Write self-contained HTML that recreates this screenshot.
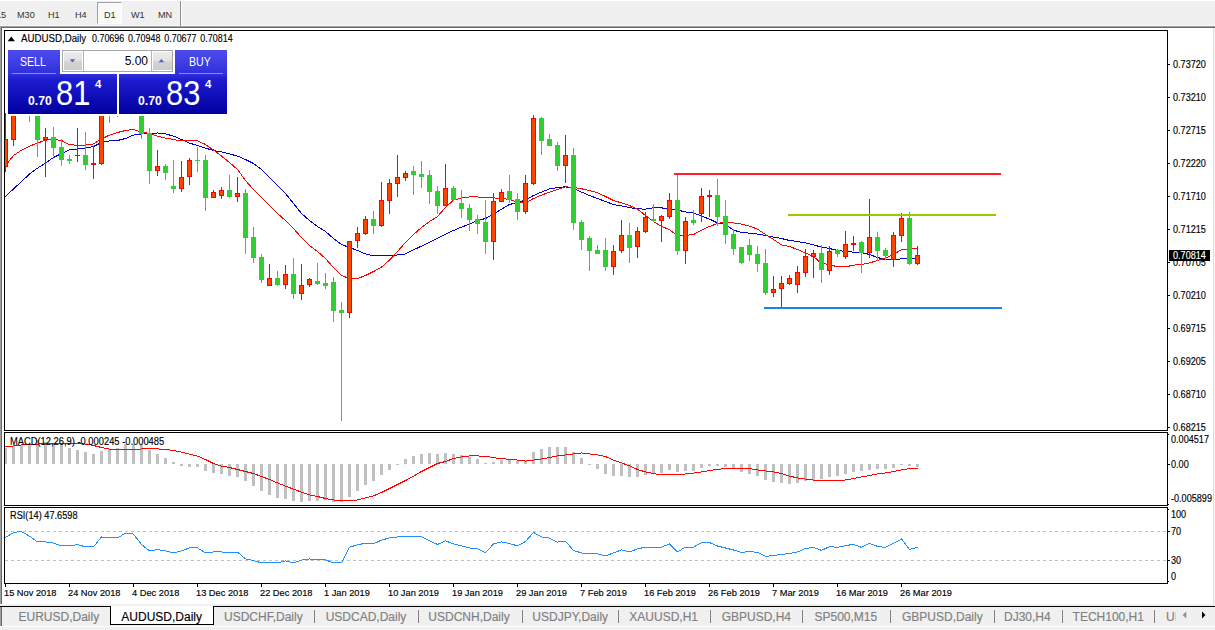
<!DOCTYPE html><html><head><meta charset="utf-8"><title>AUDUSD,Daily</title><style>
html,body{margin:0;padding:0;}
body{width:1215px;height:630px;position:relative;overflow:hidden;background:#fff;font-family:"Liberation Sans", sans-serif;}
.a{position:absolute;}
.t{position:absolute;white-space:nowrap;line-height:1;}
.ax{font-size:10px;color:#000;left:1173px;transform-origin:0 0;transform:scaleX(.91);-webkit-text-stroke:0.15px #000;}
.dt{font-size:9.8px;color:#000;top:588.2px;margin-left:-0.7px;transform-origin:0 0;transform:scaleX(.945);-webkit-text-stroke:0.15px #000;}
.ct{font-size:10.3px;color:#000;transform-origin:0 0;-webkit-text-stroke:0.15px #000;}
.tb{font-size:9.6px;color:#303030;top:9.8px;transform-origin:0 0;transform:scaleX(.95);}
.tab{font-size:12px;color:#808080;top:611px;-webkit-text-stroke:0.15px currentColor;}
.sep{position:absolute;top:610px;width:1px;height:13px;background:#808080;}
</style></head><body>
<div class="a" style="left:0;top:1px;width:1215px;height:24px;background:#f0f0f0"></div>
<div class="a" style="left:0;top:25px;width:1215px;height:1px;background:#f7f7f7"></div>
<div class="a" style="left:0;top:26px;width:1215px;height:1px;background:#a0a0a0"></div>
<div class="a" style="left:0;top:27px;width:1215px;height:1px;background:#696969"></div>
<div class="a" style="left:97px;top:2px;width:25px;height:22px;background:#f9f9f9;border-left:1px solid #a0a0a0;border-top:1px solid #a0a0a0;box-sizing:border-box;border-right:1px solid #fff;border-bottom:1px solid #fff"></div>
<div class="a" style="left:180px;top:1px;width:1px;height:25px;background:#909090"></div>
<div class="a" style="left:181px;top:1px;width:1px;height:25px;background:#fafafa"></div>
<div class="t tb" style="left:-4px">15</div>
<div class="t tb" style="left:16.5px">M30</div>
<div class="t tb" style="left:47.7px">H1</div>
<div class="t tb" style="left:74.7px">H4</div>
<div class="t tb" style="left:103.6px">D1</div>
<div class="t tb" style="left:131.3px">W1</div>
<div class="t tb" style="left:157.7px">MN</div>
<div class="a" style="left:0;top:27px;width:1px;height:577px;background:#a0a0a0"></div>
<div class="a" style="left:1px;top:28px;width:1px;height:576px;background:#696969"></div>
<div class="a" style="left:1213px;top:28px;width:1px;height:576px;background:#dedede"></div>
<div class="a" style="left:1214px;top:28px;width:1px;height:576px;background:#f6f6f6"></div>
<svg class="a" style="left:0;top:0" width="1215" height="630" viewBox="0 0 1215 630"><polyline points="5.5,196.5 13.5,188.9 21.5,181.5 29.5,174.1 37.5,168.1 45.5,163.1 53.5,157.5 61.5,153.5 69.5,149.9 77.5,148.9 85.5,147.9 93.5,146.5 101.5,142.5 109.5,140.9 117.5,140.5 125.5,138.5 133.5,135.1 141.5,133.9 149.5,133.9 157.5,132.9 165.5,133.9 173.5,136.1 181.5,139.5 189.5,143.1 197.5,145.5 205.5,148.1 213.5,150.5 221.5,151.9 229.5,153.9 237.5,156.1 245.5,159.5 253.5,163.5 261.5,169.5 269.5,177.5 277.5,185.5 285.5,193.5 293.5,203.5 301.5,213.5 309.5,220.5 317.5,226.5 325.5,231.5 333.5,238.5 341.5,244.5 349.5,247.5 357.5,250.5 365.5,253.9 373.5,255.9 381.5,255.9 389.5,255.9 397.5,254.9 405.5,253.9 413.5,249.9 421.5,246.1 429.5,242.1 437.5,238.1 445.5,234.1 453.5,230.5 461.5,227.1 469.5,224.1 477.5,220.5 485.5,218.5 493.5,214.1 501.5,209.1 509.5,204.5 517.5,202.5 525.5,200.1 533.5,195.5 541.5,192.1 549.5,188.9 557.5,187.5 565.5,186.8 573.5,188.5 581.5,192.1 589.5,195.5 597.5,198.5 605.5,201.5 613.5,204.5 621.5,205.9 629.5,207.5 637.5,208.9 645.5,209.1 653.5,207.8 661.5,207.8 669.5,209.5 677.5,210.1 685.5,211.9 693.5,212.9 701.5,216.1 709.5,219.1 717.5,222.9 725.5,224.5 733.5,230.1 741.5,232.5 749.5,233.1 757.5,234.1 765.5,235.5 773.5,237.1 781.5,238.5 789.5,240.5 797.5,241.5 805.5,242.9 813.5,244.9 821.5,247.1 829.5,248.5 837.5,250.5 845.5,251.5 853.5,252.1 861.5,252.5 869.5,254.5 877.5,257.5 885.5,259.5 893.5,259.5 901.5,258.9 909.5,258.9 917.5,258.9" fill="none" stroke="#0000d0" stroke-width="1" stroke-linejoin="round" shape-rendering="crispEdges" />
<polyline points="5.5,165.5 13.5,155.5 21.5,150.1 29.5,146.1 37.5,143.1 45.5,140.1 53.5,139.5 61.5,140.5 69.5,144.9 77.5,145.1 85.5,145.1 93.5,143.9 101.5,138.9 109.5,135.1 117.5,132.5 125.5,130.5 133.5,129.5 141.5,132.1 149.5,133.5 157.5,136.1 165.5,138.1 173.5,139.5 181.5,140.9 189.5,140.5 197.5,140.9 205.5,144.5 213.5,150.1 221.5,156.1 229.5,162.5 237.5,169.5 245.5,180.5 253.5,189.5 261.5,197.5 269.5,205.5 277.5,213.5 285.5,220.5 293.5,228.5 301.5,237.5 309.5,245.5 317.5,251.5 325.5,258.5 333.5,267.5 341.5,275.5 349.5,278.5 357.5,278.5 365.5,275.5 373.5,271.5 381.5,267.1 389.5,260.1 397.5,251.5 405.5,242.5 413.5,234.5 421.5,227.5 429.5,221.5 437.5,216.5 445.5,207.5 453.5,200.1 461.5,198.1 469.5,196.9 477.5,196.9 485.5,197.9 493.5,197.9 501.5,198.5 509.5,199.5 517.5,202.1 525.5,202.9 533.5,198.5 541.5,195.1 549.5,192.1 557.5,189.5 565.5,186.8 573.5,187.5 581.5,188.8 589.5,190.5 597.5,192.8 605.5,196.5 613.5,200.5 621.5,202.9 629.5,205.5 637.5,209.1 645.5,215.5 653.5,221.5 661.5,226.5 669.5,229.5 677.5,236.1 685.5,235.5 693.5,234.5 701.5,230.1 709.5,226.5 717.5,223.5 725.5,222.1 733.5,222.9 741.5,224.1 749.5,226.1 757.5,229.1 765.5,234.5 773.5,239.5 781.5,244.9 789.5,246.5 797.5,249.5 805.5,252.9 813.5,256.5 821.5,263.5 829.5,264.5 837.5,266.9 845.5,266.9 853.5,265.1 861.5,264.5 869.5,262.9 877.5,260.5 885.5,258.1 893.5,254.1 901.5,249.9 909.5,248.9 917.5,248.9" fill="none" stroke="#ff0000" stroke-width="1" stroke-linejoin="round" shape-rendering="crispEdges" />
<g shape-rendering="crispEdges">
<rect x="5" y="113" width="1" height="59" fill="#ff0000"/>
<rect x="5" y="139" width="3" height="28" fill="#ff0000"/>
<rect x="4" y="140" width="3" height="26" fill="#ff4500"/>
<rect x="13" y="100" width="1" height="46" fill="#ff0000"/>
<rect x="11" y="100" width="5" height="40" fill="#ff0000"/>
<rect x="12" y="101" width="3" height="38" fill="#ff4500"/>
<rect x="29" y="100" width="1" height="22" fill="#32cd32"/>
<rect x="37" y="100" width="1" height="57" fill="#32cd32"/>
<rect x="35" y="100" width="5" height="40" fill="#32cd32"/>
<rect x="45" y="128" width="1" height="49" fill="#ff0000"/>
<rect x="43" y="137" width="5" height="3" fill="#ff0000"/>
<rect x="44" y="138" width="3" height="1" fill="#ff4500"/>
<rect x="53" y="127" width="1" height="29" fill="#32cd32"/>
<rect x="51" y="137" width="5" height="11" fill="#32cd32"/>
<rect x="61" y="139" width="1" height="27" fill="#32cd32"/>
<rect x="59" y="147" width="5" height="13" fill="#32cd32"/>
<rect x="69" y="155" width="1" height="9" fill="#32cd32"/>
<rect x="67" y="159" width="5" height="2" fill="#32cd32"/>
<rect x="77" y="128" width="1" height="34" fill="#ff0000"/>
<rect x="75" y="155" width="5" height="1" fill="#ff0000"/>
<rect x="85" y="132" width="1" height="38" fill="#32cd32"/>
<rect x="83" y="155" width="5" height="10" fill="#32cd32"/>
<rect x="93" y="146" width="1" height="33" fill="#ff0000"/>
<rect x="91" y="163" width="5" height="2" fill="#ff0000"/>
<rect x="101" y="100" width="1" height="65" fill="#ff0000"/>
<rect x="99" y="100" width="5" height="64" fill="#ff0000"/>
<rect x="100" y="101" width="3" height="62" fill="#ff4500"/>
<rect x="109" y="100" width="1" height="23" fill="#32cd32"/>
<rect x="117" y="100" width="1" height="17" fill="#32cd32"/>
<rect x="141" y="100" width="1" height="39" fill="#32cd32"/>
<rect x="139" y="100" width="5" height="34" fill="#32cd32"/>
<rect x="149" y="128" width="1" height="56" fill="#32cd32"/>
<rect x="147" y="133" width="5" height="38" fill="#32cd32"/>
<rect x="157" y="150" width="1" height="26" fill="#ff0000"/>
<rect x="155" y="166" width="5" height="5" fill="#ff0000"/>
<rect x="156" y="167" width="3" height="3" fill="#ff4500"/>
<rect x="165" y="164" width="1" height="16" fill="#32cd32"/>
<rect x="163" y="166" width="5" height="7" fill="#32cd32"/>
<rect x="173" y="160" width="1" height="33" fill="#32cd32"/>
<rect x="171" y="186" width="5" height="3" fill="#32cd32"/>
<rect x="181" y="161" width="1" height="31" fill="#ff0000"/>
<rect x="179" y="177" width="5" height="12" fill="#ff0000"/>
<rect x="180" y="178" width="3" height="10" fill="#ff4500"/>
<rect x="189" y="158" width="1" height="27" fill="#ff0000"/>
<rect x="187" y="160" width="5" height="17" fill="#ff0000"/>
<rect x="188" y="161" width="3" height="15" fill="#ff4500"/>
<rect x="197" y="147" width="1" height="25" fill="#32cd32"/>
<rect x="195" y="160" width="5" height="1" fill="#32cd32"/>
<rect x="205" y="155" width="1" height="56" fill="#32cd32"/>
<rect x="203" y="160" width="5" height="38" fill="#32cd32"/>
<rect x="213" y="190" width="1" height="8" fill="#ff0000"/>
<rect x="211" y="192" width="5" height="6" fill="#ff0000"/>
<rect x="212" y="193" width="3" height="4" fill="#ff4500"/>
<rect x="221" y="187" width="1" height="12" fill="#ff0000"/>
<rect x="219" y="190" width="5" height="6" fill="#ff0000"/>
<rect x="220" y="191" width="3" height="4" fill="#ff4500"/>
<rect x="229" y="175" width="1" height="23" fill="#32cd32"/>
<rect x="227" y="190" width="5" height="7" fill="#32cd32"/>
<rect x="237" y="177" width="1" height="25" fill="#ff0000"/>
<rect x="235" y="193" width="5" height="4" fill="#ff0000"/>
<rect x="236" y="194" width="3" height="2" fill="#ff4500"/>
<rect x="245" y="189" width="1" height="65" fill="#32cd32"/>
<rect x="243" y="193" width="5" height="45" fill="#32cd32"/>
<rect x="253" y="227" width="1" height="36" fill="#32cd32"/>
<rect x="251" y="237" width="5" height="21" fill="#32cd32"/>
<rect x="261" y="254" width="1" height="29" fill="#32cd32"/>
<rect x="259" y="257" width="5" height="23" fill="#32cd32"/>
<rect x="269" y="264" width="1" height="22" fill="#ff0000"/>
<rect x="267" y="278" width="5" height="8" fill="#ff0000"/>
<rect x="268" y="279" width="3" height="6" fill="#ff4500"/>
<rect x="277" y="271" width="1" height="15" fill="#32cd32"/>
<rect x="275" y="278" width="5" height="7" fill="#32cd32"/>
<rect x="285" y="265" width="1" height="24" fill="#ff0000"/>
<rect x="283" y="274" width="5" height="11" fill="#ff0000"/>
<rect x="284" y="275" width="3" height="9" fill="#ff4500"/>
<rect x="293" y="258" width="1" height="41" fill="#32cd32"/>
<rect x="291" y="274" width="5" height="20" fill="#32cd32"/>
<rect x="301" y="264" width="1" height="36" fill="#ff0000"/>
<rect x="299" y="285" width="5" height="9" fill="#ff0000"/>
<rect x="300" y="286" width="3" height="7" fill="#ff4500"/>
<rect x="309" y="278" width="1" height="9" fill="#ff0000"/>
<rect x="307" y="279" width="5" height="6" fill="#ff0000"/>
<rect x="308" y="280" width="3" height="4" fill="#ff4500"/>
<rect x="317" y="263" width="1" height="22" fill="#32cd32"/>
<rect x="315" y="281" width="5" height="3" fill="#32cd32"/>
<rect x="325" y="273" width="1" height="16" fill="#32cd32"/>
<rect x="323" y="283" width="5" height="3" fill="#32cd32"/>
<rect x="333" y="277" width="1" height="45" fill="#32cd32"/>
<rect x="331" y="282" width="5" height="29" fill="#32cd32"/>
<rect x="341" y="302" width="1" height="119" fill="#32cd32"/>
<rect x="339" y="310" width="5" height="3" fill="#32cd32"/>
<rect x="349" y="241" width="1" height="77" fill="#ff0000"/>
<rect x="347" y="241" width="5" height="72" fill="#ff0000"/>
<rect x="348" y="242" width="3" height="70" fill="#ff4500"/>
<rect x="357" y="227" width="1" height="21" fill="#ff0000"/>
<rect x="355" y="233" width="5" height="8" fill="#ff0000"/>
<rect x="356" y="234" width="3" height="6" fill="#ff4500"/>
<rect x="365" y="216" width="1" height="19" fill="#ff0000"/>
<rect x="363" y="219" width="5" height="15" fill="#ff0000"/>
<rect x="364" y="220" width="3" height="13" fill="#ff4500"/>
<rect x="373" y="211" width="1" height="23" fill="#32cd32"/>
<rect x="371" y="219" width="5" height="7" fill="#32cd32"/>
<rect x="381" y="182" width="1" height="45" fill="#ff0000"/>
<rect x="379" y="200" width="5" height="26" fill="#ff0000"/>
<rect x="380" y="201" width="3" height="24" fill="#ff4500"/>
<rect x="389" y="179" width="1" height="35" fill="#ff0000"/>
<rect x="387" y="183" width="5" height="18" fill="#ff0000"/>
<rect x="388" y="184" width="3" height="16" fill="#ff4500"/>
<rect x="397" y="155" width="1" height="42" fill="#ff0000"/>
<rect x="395" y="177" width="5" height="7" fill="#ff0000"/>
<rect x="396" y="178" width="3" height="5" fill="#ff4500"/>
<rect x="405" y="171" width="1" height="10" fill="#ff0000"/>
<rect x="403" y="173" width="5" height="5" fill="#ff0000"/>
<rect x="404" y="174" width="3" height="3" fill="#ff4500"/>
<rect x="413" y="166" width="1" height="29" fill="#32cd32"/>
<rect x="411" y="171" width="5" height="4" fill="#32cd32"/>
<rect x="421" y="161" width="1" height="27" fill="#32cd32"/>
<rect x="419" y="174" width="5" height="3" fill="#32cd32"/>
<rect x="429" y="170" width="1" height="34" fill="#32cd32"/>
<rect x="427" y="175" width="5" height="17" fill="#32cd32"/>
<rect x="437" y="186" width="1" height="28" fill="#32cd32"/>
<rect x="435" y="191" width="5" height="15" fill="#32cd32"/>
<rect x="445" y="164" width="1" height="42" fill="#ff0000"/>
<rect x="443" y="188" width="5" height="18" fill="#ff0000"/>
<rect x="444" y="189" width="3" height="16" fill="#ff4500"/>
<rect x="453" y="186" width="1" height="15" fill="#32cd32"/>
<rect x="451" y="188" width="5" height="12" fill="#32cd32"/>
<rect x="461" y="190" width="1" height="28" fill="#32cd32"/>
<rect x="459" y="203" width="5" height="6" fill="#32cd32"/>
<rect x="469" y="204" width="1" height="27" fill="#32cd32"/>
<rect x="467" y="208" width="5" height="12" fill="#32cd32"/>
<rect x="477" y="215" width="1" height="19" fill="#32cd32"/>
<rect x="475" y="219" width="5" height="5" fill="#32cd32"/>
<rect x="485" y="200" width="1" height="54" fill="#32cd32"/>
<rect x="483" y="222" width="5" height="20" fill="#32cd32"/>
<rect x="493" y="193" width="1" height="67" fill="#ff0000"/>
<rect x="491" y="201" width="5" height="41" fill="#ff0000"/>
<rect x="492" y="202" width="3" height="39" fill="#ff4500"/>
<rect x="501" y="189" width="1" height="13" fill="#ff0000"/>
<rect x="499" y="192" width="5" height="10" fill="#ff0000"/>
<rect x="500" y="193" width="3" height="8" fill="#ff4500"/>
<rect x="509" y="175" width="1" height="28" fill="#32cd32"/>
<rect x="507" y="191" width="5" height="9" fill="#32cd32"/>
<rect x="517" y="193" width="1" height="27" fill="#32cd32"/>
<rect x="515" y="199" width="5" height="13" fill="#32cd32"/>
<rect x="525" y="175" width="1" height="39" fill="#ff0000"/>
<rect x="523" y="183" width="5" height="29" fill="#ff0000"/>
<rect x="524" y="184" width="3" height="27" fill="#ff4500"/>
<rect x="533" y="115" width="1" height="70" fill="#ff0000"/>
<rect x="531" y="118" width="5" height="66" fill="#ff0000"/>
<rect x="532" y="119" width="3" height="64" fill="#ff4500"/>
<rect x="541" y="117" width="1" height="38" fill="#32cd32"/>
<rect x="539" y="118" width="5" height="23" fill="#32cd32"/>
<rect x="549" y="134" width="1" height="12" fill="#32cd32"/>
<rect x="547" y="139" width="5" height="7" fill="#32cd32"/>
<rect x="557" y="142" width="1" height="29" fill="#32cd32"/>
<rect x="555" y="145" width="5" height="21" fill="#32cd32"/>
<rect x="565" y="135" width="1" height="48" fill="#ff0000"/>
<rect x="563" y="155" width="5" height="11" fill="#ff0000"/>
<rect x="564" y="156" width="3" height="9" fill="#ff4500"/>
<rect x="573" y="148" width="1" height="82" fill="#32cd32"/>
<rect x="571" y="155" width="5" height="68" fill="#32cd32"/>
<rect x="581" y="220" width="1" height="30" fill="#32cd32"/>
<rect x="579" y="222" width="5" height="18" fill="#32cd32"/>
<rect x="589" y="236" width="1" height="35" fill="#32cd32"/>
<rect x="587" y="238" width="5" height="13" fill="#32cd32"/>
<rect x="597" y="245" width="1" height="9" fill="#32cd32"/>
<rect x="595" y="250" width="5" height="4" fill="#32cd32"/>
<rect x="605" y="238" width="1" height="33" fill="#32cd32"/>
<rect x="603" y="250" width="5" height="17" fill="#32cd32"/>
<rect x="613" y="245" width="1" height="30" fill="#ff0000"/>
<rect x="611" y="251" width="5" height="16" fill="#ff0000"/>
<rect x="612" y="252" width="3" height="14" fill="#ff4500"/>
<rect x="621" y="220" width="1" height="33" fill="#ff0000"/>
<rect x="619" y="235" width="5" height="16" fill="#ff0000"/>
<rect x="620" y="236" width="3" height="14" fill="#ff4500"/>
<rect x="629" y="223" width="1" height="40" fill="#32cd32"/>
<rect x="627" y="235" width="5" height="13" fill="#32cd32"/>
<rect x="637" y="227" width="1" height="31" fill="#ff0000"/>
<rect x="635" y="231" width="5" height="16" fill="#ff0000"/>
<rect x="636" y="232" width="3" height="14" fill="#ff4500"/>
<rect x="645" y="212" width="1" height="21" fill="#ff0000"/>
<rect x="643" y="217" width="5" height="15" fill="#ff0000"/>
<rect x="644" y="218" width="3" height="13" fill="#ff4500"/>
<rect x="653" y="204" width="1" height="18" fill="#32cd32"/>
<rect x="651" y="219" width="5" height="2" fill="#32cd32"/>
<rect x="661" y="215" width="1" height="27" fill="#ff0000"/>
<rect x="659" y="216" width="5" height="5" fill="#ff0000"/>
<rect x="660" y="217" width="3" height="3" fill="#ff4500"/>
<rect x="669" y="193" width="1" height="26" fill="#ff0000"/>
<rect x="667" y="200" width="5" height="17" fill="#ff0000"/>
<rect x="668" y="201" width="3" height="15" fill="#ff4500"/>
<rect x="677" y="175" width="1" height="80" fill="#32cd32"/>
<rect x="675" y="200" width="5" height="51" fill="#32cd32"/>
<rect x="685" y="217" width="1" height="47" fill="#ff0000"/>
<rect x="683" y="221" width="5" height="30" fill="#ff0000"/>
<rect x="684" y="222" width="3" height="28" fill="#ff4500"/>
<rect x="693" y="210" width="1" height="15" fill="#32cd32"/>
<rect x="691" y="220" width="5" height="3" fill="#32cd32"/>
<rect x="701" y="188" width="1" height="34" fill="#ff0000"/>
<rect x="699" y="196" width="5" height="18" fill="#ff0000"/>
<rect x="700" y="197" width="3" height="16" fill="#ff4500"/>
<rect x="709" y="190" width="1" height="27" fill="#ff0000"/>
<rect x="707" y="195" width="5" height="2" fill="#ff0000"/>
<rect x="717" y="179" width="1" height="47" fill="#32cd32"/>
<rect x="715" y="195" width="5" height="22" fill="#32cd32"/>
<rect x="725" y="200" width="1" height="44" fill="#32cd32"/>
<rect x="723" y="216" width="5" height="19" fill="#32cd32"/>
<rect x="733" y="229" width="1" height="26" fill="#32cd32"/>
<rect x="731" y="234" width="5" height="15" fill="#32cd32"/>
<rect x="741" y="247" width="1" height="17" fill="#32cd32"/>
<rect x="739" y="247" width="5" height="16" fill="#32cd32"/>
<rect x="749" y="239" width="1" height="22" fill="#32cd32"/>
<rect x="747" y="245" width="5" height="10" fill="#32cd32"/>
<rect x="757" y="246" width="1" height="26" fill="#32cd32"/>
<rect x="755" y="254" width="5" height="10" fill="#32cd32"/>
<rect x="765" y="249" width="1" height="46" fill="#32cd32"/>
<rect x="763" y="263" width="5" height="30" fill="#32cd32"/>
<rect x="773" y="276" width="1" height="21" fill="#ff0000"/>
<rect x="771" y="289" width="5" height="4" fill="#ff0000"/>
<rect x="772" y="290" width="3" height="2" fill="#ff4500"/>
<rect x="781" y="276" width="1" height="31" fill="#ff0000"/>
<rect x="779" y="283" width="5" height="6" fill="#ff0000"/>
<rect x="780" y="284" width="3" height="4" fill="#ff4500"/>
<rect x="789" y="275" width="1" height="10" fill="#ff0000"/>
<rect x="787" y="278" width="5" height="6" fill="#ff0000"/>
<rect x="788" y="279" width="3" height="4" fill="#ff4500"/>
<rect x="797" y="266" width="1" height="27" fill="#ff0000"/>
<rect x="795" y="272" width="5" height="13" fill="#ff0000"/>
<rect x="796" y="273" width="3" height="11" fill="#ff4500"/>
<rect x="805" y="249" width="1" height="28" fill="#ff0000"/>
<rect x="803" y="256" width="5" height="17" fill="#ff0000"/>
<rect x="804" y="257" width="3" height="15" fill="#ff4500"/>
<rect x="813" y="250" width="1" height="28" fill="#ff0000"/>
<rect x="811" y="253" width="5" height="4" fill="#ff0000"/>
<rect x="812" y="254" width="3" height="2" fill="#ff4500"/>
<rect x="821" y="245" width="1" height="38" fill="#32cd32"/>
<rect x="819" y="253" width="5" height="17" fill="#32cd32"/>
<rect x="829" y="246" width="1" height="29" fill="#ff0000"/>
<rect x="827" y="251" width="5" height="20" fill="#ff0000"/>
<rect x="828" y="252" width="3" height="18" fill="#ff4500"/>
<rect x="837" y="249" width="1" height="8" fill="#32cd32"/>
<rect x="835" y="250" width="5" height="4" fill="#32cd32"/>
<rect x="845" y="231" width="1" height="28" fill="#ff0000"/>
<rect x="843" y="244" width="5" height="13" fill="#ff0000"/>
<rect x="844" y="245" width="3" height="11" fill="#ff4500"/>
<rect x="853" y="236" width="1" height="15" fill="#ff0000"/>
<rect x="851" y="243" width="5" height="2" fill="#ff0000"/>
<rect x="861" y="241" width="1" height="32" fill="#32cd32"/>
<rect x="859" y="242" width="5" height="11" fill="#32cd32"/>
<rect x="869" y="199" width="1" height="59" fill="#ff0000"/>
<rect x="867" y="237" width="5" height="16" fill="#ff0000"/>
<rect x="868" y="238" width="3" height="14" fill="#ff4500"/>
<rect x="877" y="232" width="1" height="29" fill="#32cd32"/>
<rect x="875" y="237" width="5" height="14" fill="#32cd32"/>
<rect x="885" y="248" width="1" height="12" fill="#32cd32"/>
<rect x="883" y="250" width="5" height="6" fill="#32cd32"/>
<rect x="893" y="232" width="1" height="35" fill="#ff0000"/>
<rect x="891" y="235" width="5" height="25" fill="#ff0000"/>
<rect x="892" y="236" width="3" height="23" fill="#ff4500"/>
<rect x="901" y="213" width="1" height="29" fill="#ff0000"/>
<rect x="899" y="218" width="5" height="18" fill="#ff0000"/>
<rect x="900" y="219" width="3" height="16" fill="#ff4500"/>
<rect x="909" y="212" width="1" height="53" fill="#32cd32"/>
<rect x="907" y="218" width="5" height="46" fill="#32cd32"/>
<rect x="917" y="246" width="1" height="19" fill="#ff0000"/>
<rect x="915" y="255" width="5" height="9" fill="#ff0000"/>
<rect x="916" y="256" width="3" height="7" fill="#ff4500"/>
</g>
<g shape-rendering="crispEdges">
<rect x="674" y="173" width="327" height="2" fill="#ff1e2a"/>
<rect x="788" y="214" width="208" height="2" fill="#98c800"/>
<rect x="764" y="307" width="238" height="2" fill="#1e84e2"/>
</g>
<g shape-rendering="crispEdges">
<rect x="5" y="448" width="2" height="16" fill="#c0c0c0"/>
<rect x="12" y="446" width="3" height="18" fill="#c0c0c0"/>
<rect x="20" y="445" width="3" height="19" fill="#c0c0c0"/>
<rect x="28" y="444" width="3" height="20" fill="#c0c0c0"/>
<rect x="36" y="440" width="3" height="24" fill="#c0c0c0"/>
<rect x="44" y="442" width="3" height="22" fill="#c0c0c0"/>
<rect x="52" y="443" width="3" height="21" fill="#c0c0c0"/>
<rect x="60" y="444" width="3" height="20" fill="#c0c0c0"/>
<rect x="68" y="448" width="3" height="16" fill="#c0c0c0"/>
<rect x="76" y="450" width="3" height="14" fill="#c0c0c0"/>
<rect x="84" y="452" width="3" height="12" fill="#c0c0c0"/>
<rect x="92" y="454" width="3" height="10" fill="#c0c0c0"/>
<rect x="100" y="451" width="3" height="13" fill="#c0c0c0"/>
<rect x="108" y="449" width="3" height="15" fill="#c0c0c0"/>
<rect x="116" y="448" width="3" height="16" fill="#c0c0c0"/>
<rect x="124" y="444" width="3" height="20" fill="#c0c0c0"/>
<rect x="132" y="444" width="3" height="20" fill="#c0c0c0"/>
<rect x="140" y="444" width="3" height="20" fill="#c0c0c0"/>
<rect x="148" y="450" width="3" height="14" fill="#c0c0c0"/>
<rect x="156" y="454" width="3" height="10" fill="#c0c0c0"/>
<rect x="164" y="458" width="3" height="6" fill="#c0c0c0"/>
<rect x="172" y="462" width="3" height="2" fill="#c0c0c0"/>
<rect x="180" y="464" width="3" height="2" fill="#c0c0c0"/>
<rect x="188" y="464" width="3" height="3" fill="#c0c0c0"/>
<rect x="196" y="464" width="3" height="3" fill="#c0c0c0"/>
<rect x="204" y="464" width="3" height="7" fill="#c0c0c0"/>
<rect x="212" y="464" width="3" height="9" fill="#c0c0c0"/>
<rect x="220" y="464" width="3" height="10" fill="#c0c0c0"/>
<rect x="228" y="464" width="3" height="12" fill="#c0c0c0"/>
<rect x="236" y="464" width="3" height="13" fill="#c0c0c0"/>
<rect x="244" y="464" width="3" height="17" fill="#c0c0c0"/>
<rect x="252" y="464" width="3" height="22" fill="#c0c0c0"/>
<rect x="260" y="464" width="3" height="27" fill="#c0c0c0"/>
<rect x="268" y="464" width="3" height="31" fill="#c0c0c0"/>
<rect x="276" y="464" width="3" height="34" fill="#c0c0c0"/>
<rect x="284" y="464" width="3" height="35" fill="#c0c0c0"/>
<rect x="292" y="464" width="3" height="37" fill="#c0c0c0"/>
<rect x="300" y="464" width="3" height="38" fill="#c0c0c0"/>
<rect x="308" y="464" width="3" height="37" fill="#c0c0c0"/>
<rect x="316" y="464" width="3" height="37" fill="#c0c0c0"/>
<rect x="324" y="464" width="3" height="36" fill="#c0c0c0"/>
<rect x="332" y="464" width="3" height="38" fill="#c0c0c0"/>
<rect x="340" y="464" width="3" height="38" fill="#c0c0c0"/>
<rect x="348" y="464" width="3" height="33" fill="#c0c0c0"/>
<rect x="356" y="464" width="3" height="27" fill="#c0c0c0"/>
<rect x="364" y="464" width="3" height="21" fill="#c0c0c0"/>
<rect x="372" y="464" width="3" height="17" fill="#c0c0c0"/>
<rect x="380" y="464" width="3" height="11" fill="#c0c0c0"/>
<rect x="388" y="464" width="3" height="6" fill="#c0c0c0"/>
<rect x="396" y="464" width="3" height="1" fill="#c0c0c0"/>
<rect x="404" y="459" width="3" height="5" fill="#c0c0c0"/>
<rect x="412" y="456" width="3" height="8" fill="#c0c0c0"/>
<rect x="420" y="454" width="3" height="10" fill="#c0c0c0"/>
<rect x="428" y="453" width="3" height="11" fill="#c0c0c0"/>
<rect x="436" y="454" width="3" height="10" fill="#c0c0c0"/>
<rect x="444" y="453" width="3" height="11" fill="#c0c0c0"/>
<rect x="452" y="454" width="3" height="10" fill="#c0c0c0"/>
<rect x="460" y="455" width="3" height="9" fill="#c0c0c0"/>
<rect x="468" y="457" width="3" height="7" fill="#c0c0c0"/>
<rect x="476" y="459" width="3" height="5" fill="#c0c0c0"/>
<rect x="484" y="463" width="3" height="1" fill="#c0c0c0"/>
<rect x="492" y="462" width="3" height="2" fill="#c0c0c0"/>
<rect x="500" y="460" width="3" height="4" fill="#c0c0c0"/>
<rect x="508" y="460" width="3" height="4" fill="#c0c0c0"/>
<rect x="516" y="461" width="3" height="3" fill="#c0c0c0"/>
<rect x="524" y="460" width="3" height="4" fill="#c0c0c0"/>
<rect x="532" y="452" width="3" height="12" fill="#c0c0c0"/>
<rect x="540" y="449" width="3" height="15" fill="#c0c0c0"/>
<rect x="548" y="447" width="3" height="17" fill="#c0c0c0"/>
<rect x="556" y="447" width="3" height="17" fill="#c0c0c0"/>
<rect x="564" y="447" width="3" height="17" fill="#c0c0c0"/>
<rect x="572" y="452" width="3" height="12" fill="#c0c0c0"/>
<rect x="580" y="458" width="3" height="6" fill="#c0c0c0"/>
<rect x="588" y="464" width="3" height="1" fill="#c0c0c0"/>
<rect x="596" y="464" width="3" height="5" fill="#c0c0c0"/>
<rect x="604" y="464" width="3" height="10" fill="#c0c0c0"/>
<rect x="612" y="464" width="3" height="12" fill="#c0c0c0"/>
<rect x="620" y="464" width="3" height="12" fill="#c0c0c0"/>
<rect x="628" y="464" width="3" height="13" fill="#c0c0c0"/>
<rect x="636" y="464" width="3" height="13" fill="#c0c0c0"/>
<rect x="644" y="464" width="3" height="11" fill="#c0c0c0"/>
<rect x="652" y="464" width="3" height="9" fill="#c0c0c0"/>
<rect x="660" y="464" width="3" height="9" fill="#c0c0c0"/>
<rect x="668" y="464" width="3" height="6" fill="#c0c0c0"/>
<rect x="676" y="464" width="3" height="8" fill="#c0c0c0"/>
<rect x="684" y="464" width="3" height="7" fill="#c0c0c0"/>
<rect x="692" y="464" width="3" height="7" fill="#c0c0c0"/>
<rect x="700" y="464" width="3" height="4" fill="#c0c0c0"/>
<rect x="708" y="464" width="3" height="2" fill="#c0c0c0"/>
<rect x="716" y="464" width="3" height="2" fill="#c0c0c0"/>
<rect x="724" y="464" width="3" height="3" fill="#c0c0c0"/>
<rect x="732" y="464" width="3" height="5" fill="#c0c0c0"/>
<rect x="740" y="464" width="3" height="8" fill="#c0c0c0"/>
<rect x="748" y="464" width="3" height="10" fill="#c0c0c0"/>
<rect x="756" y="464" width="3" height="12" fill="#c0c0c0"/>
<rect x="764" y="464" width="3" height="16" fill="#c0c0c0"/>
<rect x="772" y="464" width="3" height="18" fill="#c0c0c0"/>
<rect x="780" y="464" width="3" height="19" fill="#c0c0c0"/>
<rect x="788" y="464" width="3" height="20" fill="#c0c0c0"/>
<rect x="796" y="464" width="3" height="19" fill="#c0c0c0"/>
<rect x="804" y="464" width="3" height="17" fill="#c0c0c0"/>
<rect x="812" y="464" width="3" height="16" fill="#c0c0c0"/>
<rect x="820" y="464" width="3" height="15" fill="#c0c0c0"/>
<rect x="828" y="464" width="3" height="13" fill="#c0c0c0"/>
<rect x="836" y="464" width="3" height="12" fill="#c0c0c0"/>
<rect x="844" y="464" width="3" height="10" fill="#c0c0c0"/>
<rect x="852" y="464" width="3" height="8" fill="#c0c0c0"/>
<rect x="860" y="464" width="3" height="7" fill="#c0c0c0"/>
<rect x="868" y="464" width="3" height="6" fill="#c0c0c0"/>
<rect x="876" y="464" width="3" height="5" fill="#c0c0c0"/>
<rect x="884" y="464" width="3" height="5" fill="#c0c0c0"/>
<rect x="892" y="464" width="3" height="4" fill="#c0c0c0"/>
<rect x="900" y="464" width="3" height="1" fill="#c0c0c0"/>
<rect x="908" y="464" width="3" height="2" fill="#c0c0c0"/>
<rect x="916" y="464" width="3" height="3" fill="#c0c0c0"/>
</g>
<polyline points="5.5,446.9 13.5,445.9 21.5,444.9 29.5,444.5 37.5,444.1 45.5,443.5 53.5,443.1 61.5,443.1 69.5,443.1 77.5,443.1 85.5,444.1 93.5,445.5 101.5,447.5 109.5,449.1 117.5,449.9 125.5,449.9 133.5,449.9 141.5,448.9 149.5,448.9 157.5,448.9 165.5,449.5 173.5,450.5 181.5,452.1 189.5,454.1 197.5,456.1 205.5,459.5 213.5,463.5 221.5,466.1 229.5,467.5 237.5,469.5 245.5,471.5 253.5,473.5 261.5,476.5 269.5,479.5 277.5,482.9 285.5,486.1 293.5,489.1 301.5,492.1 309.5,494.9 317.5,496.5 325.5,498.5 333.5,499.9 341.5,500.9 349.5,500.9 357.5,499.9 365.5,497.9 373.5,495.9 381.5,492.5 389.5,488.5 397.5,484.5 405.5,480.5 413.5,476.1 421.5,471.5 429.5,467.5 437.5,463.5 445.5,461.5 453.5,458.5 461.5,456.9 469.5,455.9 477.5,455.9 485.5,456.5 493.5,457.5 501.5,458.9 509.5,459.1 517.5,460.1 525.5,461.1 533.5,460.1 541.5,458.9 549.5,457.5 557.5,455.9 565.5,454.9 573.5,453.9 581.5,452.9 589.5,453.9 597.5,454.9 605.5,456.5 613.5,460.1 621.5,462.9 629.5,465.9 637.5,469.5 645.5,471.9 653.5,473.5 661.5,474.9 669.5,474.9 677.5,474.9 685.5,473.9 693.5,473.1 701.5,471.9 709.5,470.5 717.5,469.5 725.5,468.5 733.5,468.5 741.5,468.5 749.5,468.5 757.5,469.9 765.5,470.9 773.5,471.9 781.5,473.5 789.5,476.1 797.5,477.9 805.5,479.1 813.5,480.1 821.5,480.9 829.5,480.9 837.5,480.9 845.5,479.9 853.5,478.5 861.5,476.9 869.5,475.5 877.5,473.9 885.5,472.9 893.5,471.5 901.5,469.9 909.5,468.5 917.5,468.5" fill="none" stroke="#ff0000" stroke-width="1" stroke-linejoin="round" shape-rendering="crispEdges" />
<g shape-rendering="crispEdges">
<line x1="5" y1="531.5" x2="1167" y2="531.5" stroke="#c0c0c0" stroke-width="1" stroke-dasharray="3 3"/>
<line x1="5" y1="560.5" x2="1167" y2="560.5" stroke="#c0c0c0" stroke-width="1" stroke-dasharray="3 3"/>
</g>
<polyline points="5.5,537.5 13.5,532.5 21.5,531.5 29.5,536.1 37.5,541.9 45.5,541.9 53.5,543.1 61.5,545.9 69.5,545.9 77.5,544.5 85.5,546.9 93.5,546.9 101.5,536.9 109.5,537.9 117.5,537.9 125.5,533.1 133.5,534.1 141.5,544.5 149.5,550.9 157.5,549.5 165.5,550.9 173.5,552.9 181.5,550.9 189.5,547.9 197.5,547.9 205.5,552.9 213.5,551.9 221.5,551.9 229.5,552.9 237.5,552.1 245.5,558.9 253.5,560.5 261.5,562.9 269.5,562.9 277.5,562.9 285.5,560.9 293.5,562.9 301.5,560.1 309.5,558.9 317.5,559.9 325.5,559.9 333.5,562.9 341.5,562.9 349.5,547.1 357.5,544.9 365.5,543.1 373.5,543.9 381.5,540.1 389.5,537.9 397.5,536.9 405.5,536.9 413.5,536.9 421.5,536.9 429.5,540.9 437.5,544.5 445.5,540.9 453.5,543.9 461.5,545.9 469.5,547.9 477.5,548.9 485.5,552.9 493.5,543.9 501.5,541.9 509.5,543.5 517.5,545.9 525.5,541.5 533.5,532.5 541.5,536.9 549.5,538.1 557.5,542.1 565.5,541.1 573.5,550.5 581.5,552.9 589.5,553.9 597.5,553.9 605.5,555.9 613.5,552.9 621.5,549.9 629.5,551.9 637.5,548.9 645.5,547.1 653.5,547.1 661.5,547.1 669.5,543.9 677.5,551.9 685.5,547.1 693.5,547.1 701.5,542.6 709.5,542.6 717.5,546.0 725.5,548.0 733.5,550.0 741.5,552.4 749.5,551.4 757.5,552.4 765.5,556.4 773.5,555.4 781.5,554.4 789.5,553.4 797.5,552.0 805.5,548.4 813.5,547.4 821.5,550.4 829.5,546.6 837.5,547.4 845.5,545.6 853.5,544.4 861.5,547.4 869.5,543.4 877.5,546.4 885.5,547.4 893.5,543.4 901.5,539.0 909.5,549.4 917.5,547.4" fill="none" stroke="#1e90ff" stroke-width="1" stroke-linejoin="round" shape-rendering="crispEdges" />
<g shape-rendering="crispEdges" fill="none" stroke="#000" stroke-width="1">
<rect x="4.5" y="30.5" width="1163" height="400"/>
<rect x="4.5" y="432.5" width="1163" height="73"/>
<rect x="4.5" y="507.5" width="1163" height="76"/>
</g>
<g shape-rendering="crispEdges" fill="#000">
<rect x="1168" y="64" width="2" height="1"/>
<rect x="1168" y="97" width="2" height="1"/>
<rect x="1168" y="130" width="2" height="1"/>
<rect x="1168" y="163" width="2" height="1"/>
<rect x="1168" y="196" width="2" height="1"/>
<rect x="1168" y="229" width="2" height="1"/>
<rect x="1168" y="262" width="2" height="1"/>
<rect x="1168" y="295" width="2" height="1"/>
<rect x="1168" y="328" width="2" height="1"/>
<rect x="1168" y="361" width="2" height="1"/>
<rect x="1168" y="394" width="2" height="1"/>
<rect x="1168" y="427" width="2" height="1"/>
<rect x="1168" y="464" width="2" height="1"/>
<rect x="1168" y="531" width="2" height="1"/>
<rect x="1168" y="560" width="2" height="1"/>
<rect x="1168" y="434" width="1" height="1"/>
<rect x="1168" y="504" width="1" height="1"/>
<rect x="1168" y="509" width="1" height="1"/>
<rect x="1168" y="581" width="1" height="1"/>
<rect x="5" y="584" width="1" height="3"/>
<rect x="69" y="584" width="1" height="3"/>
<rect x="133" y="584" width="1" height="3"/>
<rect x="197" y="584" width="1" height="3"/>
<rect x="261" y="584" width="1" height="3"/>
<rect x="325" y="584" width="1" height="3"/>
<rect x="389" y="584" width="1" height="3"/>
<rect x="453" y="584" width="1" height="3"/>
<rect x="517" y="584" width="1" height="3"/>
<rect x="581" y="584" width="1" height="3"/>
<rect x="645" y="584" width="1" height="3"/>
<rect x="709" y="584" width="1" height="3"/>
<rect x="773" y="584" width="1" height="3"/>
<rect x="837" y="584" width="1" height="3"/>
<rect x="901" y="584" width="1" height="3"/>
</g></svg>
<div class="t ax" style="top:59.5px">0.73720</div>
<div class="t ax" style="top:92.5px">0.73210</div>
<div class="t ax" style="top:125.5px">0.72715</div>
<div class="t ax" style="top:158.5px">0.72220</div>
<div class="t ax" style="top:191.5px">0.71710</div>
<div class="t ax" style="top:224.5px">0.71215</div>
<div class="t ax" style="top:257.5px">0.70705</div>
<div class="t ax" style="top:290.5px">0.70210</div>
<div class="t ax" style="top:323.5px">0.69715</div>
<div class="t ax" style="top:356.5px">0.69205</div>
<div class="t ax" style="top:389.5px">0.68710</div>
<div class="t ax" style="top:422.5px">0.68215</div>
<div class="t ax" style="left:1171px;top:434.90000000000003px">0.004517</div>
<div class="t ax" style="left:1171px;top:459.6px">0.00</div>
<div class="t ax" style="left:1171px;top:493.90000000000003px">-0.005899</div>
<div class="t ax" style="left:1171px;top:509.6px">100</div>
<div class="t ax" style="left:1171px;top:526.6px">70</div>
<div class="t ax" style="left:1171px;top:555.6px">30</div>
<div class="t ax" style="left:1171px;top:571.7px">0</div>
<div class="a" style="left:1169px;top:250px;width:41px;height:11px;background:#000"></div>
<div class="t ax" style="top:251.3px;color:#fff;-webkit-text-stroke:0.15px #fff">0.70814</div>
<div class="t dt" style="left:5px">15 Nov 2018</div>
<div class="t dt" style="left:69px">24 Nov 2018</div>
<div class="t dt" style="left:133px">4 Dec 2018</div>
<div class="t dt" style="left:197px">13 Dec 2018</div>
<div class="t dt" style="left:261px">22 Dec 2018</div>
<div class="t dt" style="left:325px">1 Jan 2019</div>
<div class="t dt" style="left:389px">10 Jan 2019</div>
<div class="t dt" style="left:453px">19 Jan 2019</div>
<div class="t dt" style="left:517px">29 Jan 2019</div>
<div class="t dt" style="left:581px">7 Feb 2019</div>
<div class="t dt" style="left:645px">16 Feb 2019</div>
<div class="t dt" style="left:709px">26 Feb 2019</div>
<div class="t dt" style="left:773px">7 Mar 2019</div>
<div class="t dt" style="left:837px">16 Mar 2019</div>
<div class="t dt" style="left:901px">26 Mar 2019</div>
<svg class="a" style="left:0;top:30px" width="20" height="16"><polygon points="7.6,11.2 15,11.2 11.3,6.6" fill="#000"/></svg>
<div class="t ct" style="left:20.5px;top:33.7px;transform:scaleX(.942)">AUDUSD,Daily</div>
<div class="t ct" style="left:92px;top:33.7px;word-spacing:1.63px;transform:scaleX(.866)">0.70696 0.70948 0.70677 0.70814</div>
<div class="t ct" style="left:9.5px;top:436.6px;transform:scaleX(.907)">MACD(12,26,9) -0.000245 -0.000485</div>
<div class="t ct" style="left:9.5px;top:511.2px;transform:scaleX(.895)">RSI(14) 47.6598</div>
<div class="a" style="left:8px;top:50px;width:52px;height:64px;background:linear-gradient(#4c4cec 0px,#3030dc 24px,#1c1cd0 30px,#0000a0 64px)"></div>
<div class="a" style="left:60px;top:74px;width:57px;height:40px;background:linear-gradient(#4c4cec 0px,#3030dc 24px,#1c1cd0 30px,#0000a0 64px);background-position:0 -24px;background-size:100% 64px"></div>
<div class="a" style="left:175px;top:50px;width:52px;height:64px;background:linear-gradient(#4c4cec 0px,#3030dc 24px,#1c1cd0 30px,#0000a0 64px)"></div>
<div class="a" style="left:119px;top:74px;width:56px;height:40px;background:linear-gradient(#4c4cec 0px,#3030dc 24px,#1c1cd0 30px,#0000a0 64px);background-position:0 -24px;background-size:100% 64px"></div>
<div class="a" style="left:12px;top:73px;width:44px;height:1px;background:#8888f0"></div>
<div class="a" style="left:179px;top:73px;width:44px;height:1px;background:#8888f0"></div>
<div class="a" style="left:117px;top:74px;width:2px;height:40px;background:#fff"></div>
<div class="t" style="left:20px;top:55.5px;font-size:12px;color:#fff;transform-origin:0 0;transform:scaleX(.88)">SELL</div>
<div class="t" style="left:188.5px;top:55.5px;font-size:12px;color:#fff;transform-origin:0 0;transform:scaleX(.88)">BUY</div>
<div class="a" style="left:8px;top:114px;width:219px;height:2px;background:#fff"></div>
<div class="a" style="left:62px;top:50px;width:111px;height:22px;background:#fff;border:1px solid #a6a6a6;box-sizing:border-box"></div>
<div class="a" style="left:64px;top:52px;width:18px;height:18px;background:linear-gradient(#ececec 0%,#e2e2e2 47%,#d4d4d4 53%,#cbcbcb 100%)"></div>
<div class="a" style="left:153px;top:52px;width:19px;height:18px;background:linear-gradient(#ececec 0%,#e2e2e2 47%,#d4d4d4 53%,#cbcbcb 100%)"></div>
<div class="a" style="left:83px;top:51px;width:1px;height:20px;background:#b4b4b4"></div>
<div class="a" style="left:151px;top:51px;width:1px;height:20px;background:#b4b4b4"></div>
<svg class="a" style="left:60px;top:50px" width="116" height="24"><polygon points="9.7,9.3 15.3,9.3 12.5,12.5" fill="#5064c8"/><polygon points="98.6,12.3 104.2,12.3 101.4,9.1" fill="#5064c8"/></svg>
<div class="t" style="left:100px;width:48px;text-align:right;top:55px;font-size:12px;color:#000">5.00</div>
<div class="t" style="left:27.8px;top:95px;font-size:12px;font-weight:bold;color:#fff;transform-origin:0 0;transform:scaleX(1.02)">0.70</div>
<div class="t" style="left:55.5px;top:75.7px;font-size:34.3px;color:#fff;transform-origin:0 0;transform:scaleX(.90)">81</div>
<div class="t" style="left:95px;top:79px;font-size:11.5px;font-weight:bold;color:#fff">4</div>
<div class="t" style="left:137.8px;top:95px;font-size:12px;font-weight:bold;color:#fff;transform-origin:0 0;transform:scaleX(1.02)">0.70</div>
<div class="t" style="left:165.5px;top:75.7px;font-size:34.3px;color:#fff;transform-origin:0 0;transform:scaleX(.90)">83</div>
<div class="t" style="left:205px;top:79px;font-size:11.5px;font-weight:bold;color:#fff">4</div>
<div class="a" style="left:0;top:604px;width:1215px;height:26px;background:#f0f0f0"></div>
<div class="a" style="left:0;top:606px;width:1215px;height:1px;background:#000"></div>
<div class="a" style="left:0;top:626px;width:1215px;height:1px;background:#fff"></div>
<div class="a" style="left:0;top:607px;width:1px;height:19px;background:#a0a0a0"></div>
<div class="a" style="left:1px;top:607px;width:1px;height:19px;background:#696969"></div>
<div class="a" style="left:110px;top:606px;width:104px;height:19px;background:#fff;border:1px solid #000;border-top:none;box-sizing:border-box"></div>
<div class="t tab" style="left:18.5px;color:#808080">EURUSD,Daily</div>
<div class="t tab" style="left:121.3px;color:#000">AUDUSD,Daily</div>
<div class="t tab" style="left:224px;color:#808080">USDCHF,Daily</div>
<div class="t tab" style="left:325.7px;color:#808080">USDCAD,Daily</div>
<div class="t tab" style="left:428.3px;color:#808080">USDCNH,Daily</div>
<div class="t tab" style="left:532.3px;color:#808080">USDJPY,Daily</div>
<div class="t tab" style="left:629.3px;color:#808080">XAUUSD,H1</div>
<div class="t tab" style="left:721.7px;color:#808080">GBPUSD,H4</div>
<div class="t tab" style="left:814.5px;color:#808080">SP500,M15</div>
<div class="t tab" style="left:902px;color:#808080">GBPUSD,Daily</div>
<div class="t tab" style="left:1004px;color:#808080">DJ30,H4</div>
<div class="t tab" style="left:1072.6px;color:#808080">TECH100,H1</div>
<div class="t tab" style="left:1166px;width:10px;overflow:hidden">UI</div>
<div class="sep" style="left:314px"></div>
<div class="sep" style="left:418px"></div>
<div class="sep" style="left:522px"></div>
<div class="sep" style="left:618px"></div>
<div class="sep" style="left:710px"></div>
<div class="sep" style="left:802px"></div>
<div class="sep" style="left:890px"></div>
<div class="sep" style="left:994px"></div>
<div class="sep" style="left:1062px"></div>
<div class="sep" style="left:1154px"></div>
<svg class="a" style="left:1175px;top:606px" width="40" height="20"><polygon points="7.6,9 11.3,5.6 11.3,12.4" fill="#909090"/><polygon points="30.5,9 27,5.6 27,12.4" fill="#000"/></svg>
</body></html>
